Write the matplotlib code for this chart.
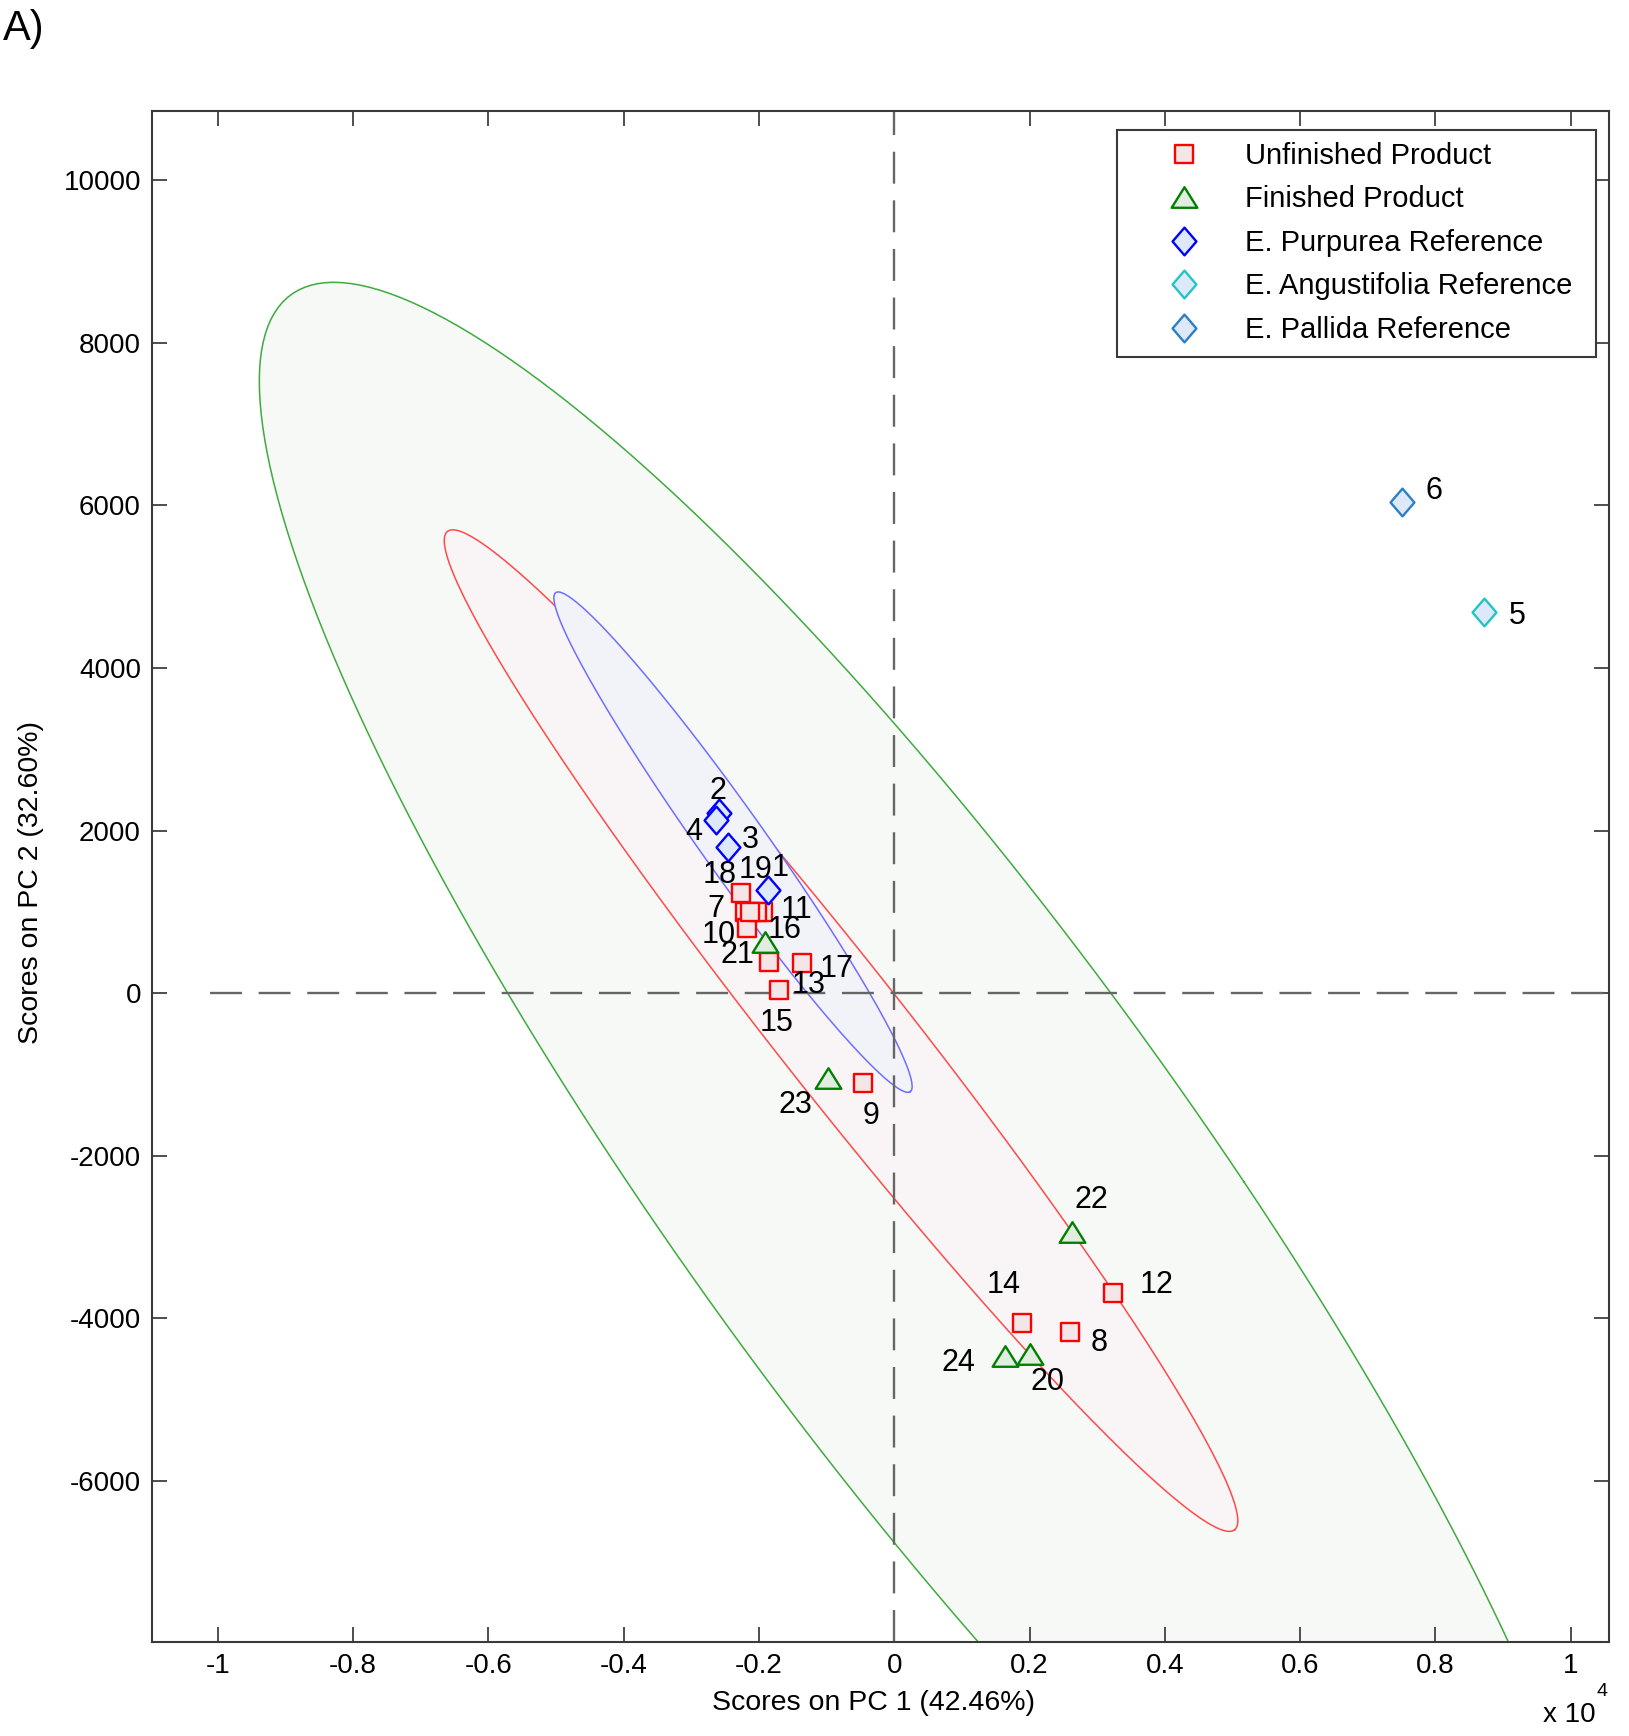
import numpy as np
import matplotlib
matplotlib.use("Agg")
import matplotlib.pyplot as plt
from matplotlib.path import Path
from matplotlib.patches import Rectangle

plt.rcParams['font.family'] = ['Liberation Sans', 'DejaVu Sans']
plt.rcParams['lines.scale_dashes'] = False

# ---------------- data ----------------
ids_unfinished = [7, 8, 9, 10, 11, 12, 13, 14, 15, 16, 17, 18, 19]
pc1_unfinished = [-2211, 2596, -469, -2177, -1945, 3235, -1847, 1892, -1709, -2030, -1365, -2267, -2127]
pc2_unfinished = [1004, -4170, -1107, 800, 1004, -3690, 389, -4051, 41, 1004, 376, 1237, 1004]

ids_finished = [20, 21, 22, 23, 24]
pc1_finished = [2006, -1906, 2630, -981, 1637]
pc2_finished = [-4437, 635, -2932, -1046, -4461]

ids_purpurea = [1, 2, 3, 4]
pc1_purpurea = [-1867, -2595, -2462, -2635]
pc2_purpurea = [1271, 2214, 1803, 2132]

ids_angustifolia = [5]
pc1_angustifolia = [8722]
pc2_angustifolia = [4686]

ids_pallida = [6]
pc1_pallida = [7501]
pc2_pallida = [6047]

# confidence ellipses: centre and two conjugate semi-axis vectors (data units)
ell_finished_center = (610, -2321)
ell_finished_u = (4560, 0)
ell_finished_v = (8897, -11066)

ell_unfinished_center = (-788, -459)
ell_unfinished_u = (5818, -6140)
ell_unfinished_v = (747, 492)

ell_purpurea_center = (-2385, 1859)
ell_purpurea_u = (2620, -3069)
ell_purpurea_v = (385, 228)

xticks = [-10000, -8000, -6000, -4000, -2000, 0, 2000, 4000, 6000, 8000, 10000]
xtick_labels = ['-1', '-0.8', '-0.6', '-0.4', '-0.2', '0', '0.2', '0.4', '0.6', '0.8', '1']
yticks = [-6000, -4000, -2000, 0, 2000, 4000, 6000, 8000, 10000]
ytick_labels = ['-6000', '-4000', '-2000', '0', '2000', '4000', '6000', '8000', '10000']

# label offsets (pixels) for sample numbers
label_offsets = {
    1: (12, 22), 2: (-1, 22), 3: (23, 7), 4: (-22, -12), 5: (33, -4), 6: (32, 11),
    7: (-29, 3), 8: (29, -11), 9: (8, -33), 10: (-28, -7), 11: (34, 2), 12: (43, 8),
    13: (39, -23), 14: (-19, 38), 15: (-2, -33), 16: (28, -18), 17: (35, -6),
    18: (-21, 18), 19: (5, 42), 20: (17, -28), 21: (-28, -13), 22: (19, 32),
    23: (-33, -27), 24: (-47, -7),
}

# ---------------- figure ----------------
W, H = 1629, 1736
fig = plt.figure(figsize=(W / 100, H / 100), dpi=100)
L, R, T, B = 152, 1609, 111, 1642
ax = fig.add_axes([L / W, (H - B) / H, (R - L) / W, (B - T) / H])
ax.set_xlim(-10974, 10565)
ax.set_ylim(-7979, 10852)


def fx(px):
    return (px - L) / (R - L)


def fy(py):
    return 1 - (py - T) / (B - T)


t = np.linspace(0, 2 * np.pi, 241)


def draw_ellipse(c, u, v, edge, face, z):
    xs = c[0] + u[0] * np.cos(t) + v[0] * np.sin(t)
    ys = c[1] + u[1] * np.cos(t) + v[1] * np.sin(t)
    ax.fill(xs, ys, facecolor=face, edgecolor='none', zorder=z)
    ax.plot(xs, ys, color=edge, lw=1.1, zorder=z + 0.5)


draw_ellipse(ell_finished_center, ell_finished_u, ell_finished_v, '#3faa3f', '#f6f9f5', 1)
draw_ellipse(ell_unfinished_center, ell_unfinished_u, ell_unfinished_v, '#ff4a4a', '#f9f5f6', 2)
draw_ellipse(ell_purpurea_center, ell_purpurea_u, ell_purpurea_v, '#6f6fff', '#f2f2f9', 3)

# reference dashed lines
ax.axvline(0, color='#666666', lw=1.7, dashes=(23, 12), zorder=4)
ax.plot([-10120, 10565], [0, 0], color='#666666', lw=1.7, dashes=(23, 12), zorder=4)

sq = Path([(-1, -1), (1, -1), (1, 1), (-1, 1), (-1, -1)], closed=True)
tri = Path([(-1, -0.8), (1, -0.8), (0, 0.8), (-1, -0.8)], closed=True)
dia = Path([(0, -1), (0.86, 0), (0, 1), (-0.86, 0), (0, -1)], closed=True)

ax.plot(pc1_unfinished, pc2_unfinished, ls='none', marker=sq, ms=12.5, mew=1.7,
        mec='#ff0000', mfc='#f4e6e7', zorder=6, label='Unfinished Product')
ax.plot(pc1_finished, pc2_finished, ls='none', marker=tri, ms=18.5, mew=1.7,
        mec='#008000', mfc='#e1ede1', zorder=6, label='Finished Product')
ax.plot(pc1_purpurea, pc2_purpurea, ls='none', marker=dia, ms=20, mew=1.7,
        mec='#0000ff', mfc='#dde8f8', zorder=6, label='E. Purpurea Reference')
ax.plot(pc1_angustifolia, pc2_angustifolia, ls='none', marker=dia, ms=20, mew=1.7,
        mec='#22c4c4', mfc='#dde8f8', zorder=6, label='E. Angustifolia Reference')
ax.plot(pc1_pallida, pc2_pallida, ls='none', marker=dia, ms=20, mew=1.7,
        mec='#2a7fc6', mfc='#dde8f8', zorder=6, label='E. Pallida Reference')

for ids, xs, ys in [(ids_unfinished, pc1_unfinished, pc2_unfinished),
                    (ids_finished, pc1_finished, pc2_finished),
                    (ids_purpurea, pc1_purpurea, pc2_purpurea),
                    (ids_angustifolia, pc1_angustifolia, pc2_angustifolia),
                    (ids_pallida, pc1_pallida, pc2_pallida)]:
    for i, x, y in zip(ids, xs, ys):
        dx, dy = label_offsets[i]
        ax.annotate(str(i), (x, y), xytext=(dx, dy), textcoords='offset pixels',
                    ha='center', va='center', fontsize=22, color='black', zorder=7)

ax.set_xticks(xticks)
ax.set_xticklabels(xtick_labels)
ax.set_yticks(yticks)
ax.set_yticklabels(ytick_labels)
ax.tick_params(direction='in', length=11, width=1.3, color='#404040', labelsize=20,
               top=True, right=True, pad=8)
for s in ax.spines.values():
    s.set_color('#3a3a3a')
    s.set_linewidth(1.5)
    s.set_zorder(8)

ax.set_xlabel('Scores on PC 1 (42.46%)', fontsize=20.5, va='center')
ax.xaxis.set_label_coords(fx(873.7), fy(1703))
ax.set_ylabel('Scores on PC 2 (32.60%)', fontsize=20.5, va='center')
ax.yaxis.set_label_coords(fx(31), fy(882.6))

# legend: frame drawn as a rectangle, entries placed inside it
ax.add_patch(Rectangle((fx(1116.7), fy(356.7)), fx(1596) - fx(1116.7), fy(130) - fy(356.7),
                       transform=ax.transAxes, facecolor='white', edgecolor='#3a3a3a',
                       lw=1.5, zorder=8.5))
hl = 3.2
fs_leg = 21
fs_px = fs_leg * 100 / 72
leg = ax.legend(loc='upper left', bbox_to_anchor=(fx(1184 - hl * fs_px / 2), fy(142)),
                borderaxespad=0, borderpad=0, fontsize=fs_leg, numpoints=1,
                handlelength=hl, handletextpad=(1245 - 1184 - hl * fs_px / 2) / fs_px,
                labelspacing=0.53, frameon=False)
leg.set_zorder(9)

fig.text(1569 / W, 1 - 1715 / H, 'x 10', fontsize=20, ha='center', va='center')
fig.text(1601.7 / W, 1 - 1691.7 / H, '4', fontsize=14, ha='center', va='center')
fig.text(3 / W, 1 - 40 / H, 'A)', fontsize=30, ha='left', va='baseline')

fig.savefig('out.png', dpi=100)
